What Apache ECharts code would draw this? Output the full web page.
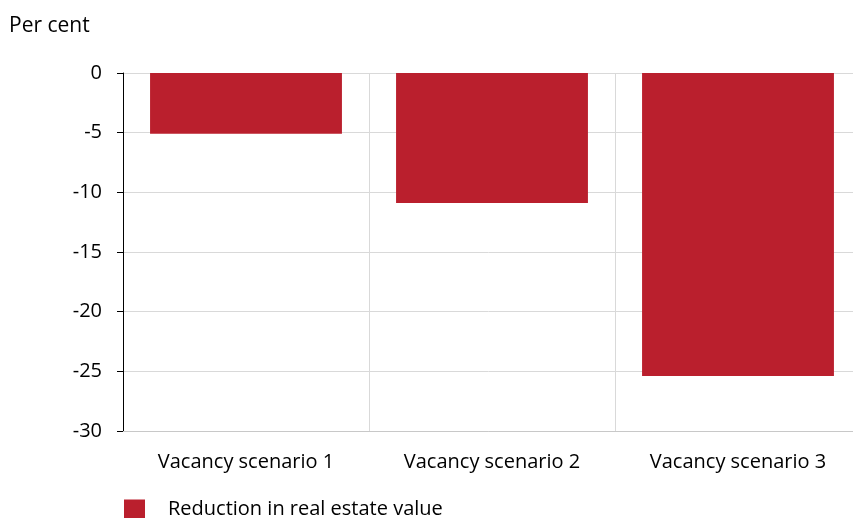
<!DOCTYPE html>
<html>
<head>
<meta charset="utf-8">
<script src="https://cdn.jsdelivr.net/npm/echarts@6/dist/echarts.min.js"></script>
<style>
  html, body { margin: 0; padding: 0; background: #fff; }
  #chart { width: 853px; height: 518px; }
</style>
</head>
<body>
<div id="chart"></div>
<script>
// 数据
const categories = ["Vacancy scenario 1", "Vacancy scenario 2", "Vacancy scenario 3"];
const reductionValues = [-5.1, -10.9, -25.4];
const seriesName = "Reduction in real estate value";
const yTicks = [0, -5, -10, -15, -20, -25, -30];

const chart = echarts.init(document.getElementById("chart"), null, { renderer: "canvas" });

const font = "'Open Sans', 'Liberation Sans', sans-serif";

const option = {
  animation: false,
  textStyle: { fontFamily: font },
  graphic: [
    {
      type: "text",
      left: 9,
      top: 16,
      style: { text: "Per cent", font: "21px " + font, fill: "#000" },
    },
  ],
  legend: {
    left: 124,
    top: 499,
    padding: 0,
    itemWidth: 21,
    itemHeight: 19,
    icon: "rect",
    textStyle: { fontSize: 20, color: "#000", fontFamily: font, padding: [0, 0, 0, 18] },
    data: [seriesName],
  },
  grid: {
    left: 123,
    width: 738,
    top: 73,
    bottom: 87,
    containLabel: false,
    outerBoundsMode: "none",
  },
  xAxis: {
    type: "category",
    data: categories,
    position: "bottom",
    axisLine: { onZero: false, lineStyle: { color: "#c8c8c8", width: 1 } },
    axisTick: { show: false },
    axisLabel: { fontSize: 20, color: "#000", margin: 21, fontFamily: font },
    splitLine: { show: true, lineStyle: { color: "#d9d9d9", width: 1 } },
  },
  yAxis: {
    type: "value",
    min: yTicks[yTicks.length - 1],
    max: yTicks[0],
    interval: 5,
    axisLine: { show: true, lineStyle: { color: "#000", width: 1 } },
    axisTick: { show: true, inside: false, length: 6, lineStyle: { color: "#000" } },
    axisLabel: { fontSize: 20, color: "#000", margin: 21, fontFamily: font },
    splitLine: { show: true, lineStyle: { color: "#d9d9d9", width: 1 } },
  },
  series: [
    {
      name: seriesName,
      type: "bar",
      data: reductionValues,
      barCategoryGap: "22%",
      itemStyle: { color: "#BA1F2D" },
    },
  ],
};

chart.setOption(option);
</script>
</body>
</html>
